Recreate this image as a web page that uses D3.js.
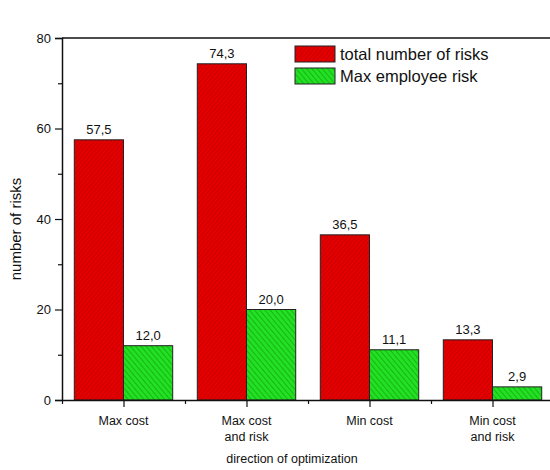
<!DOCTYPE html>
<html>
<head>
<meta charset="utf-8">
<script src="https://cdn.jsdelivr.net/npm/d3@7"></script>
<style>
  body { margin: 0; background: #fff; }
  svg text { font-family: "Liberation Sans", Arial, sans-serif; fill: #111; }
</style>
</head>
<body>
<svg id="chart"></svg>
<script>
var categories = [["Max cost"], ["Max cost", "and risk"], ["Min cost"], ["Min cost", "and risk"]];
var seriesNames = ["total number of risks", "Max employee risk"];
var totalRisks = [57.5, 74.3, 36.5, 13.3];
var maxEmployee = [12.0, 20.0, 11.1, 2.9];
var yTicks = [0, 20, 40, 60, 80];
var yMinor = [10, 30, 50, 70];

var svgWidth = 550, svgHeight = 470;
var plotLeft = 62, plotRight = 554, plotTop = 38, plotBottom = 400;

var svg = d3.select("#chart")
    .attr("width", svgWidth)
    .attr("height", svgHeight);

// hatch patterns
var defs = svg.append("defs");
function hatch(id, base, line, spacing, width, dir) {
    var p = defs.append("pattern")
        .attr("id", id)
        .attr("patternUnits", "userSpaceOnUse")
        .attr("width", spacing)
        .attr("height", spacing)
        .attr("patternTransform", "rotate(" + dir + ")");
    p.append("rect").attr("width", spacing).attr("height", spacing).attr("fill", base);
    p.append("line").attr("x1", 0).attr("y1", 0).attr("x2", 0).attr("y2", spacing)
        .attr("stroke", line).attr("stroke-width", width);
}
hatch("redHatch", "#e40000", "#a00000", 3.2, 0.7, 40);
hatch("greenHatch", "#22e022", "#0c800c", 4, 0.9, -40);
var fills = ["url(#redHatch)", "url(#greenHatch)"];

var keys = categories.map(function(d, i){ return i; });
var x0 = d3.scaleBand().domain(keys).range([plotLeft, plotRight]).paddingInner(0.2).paddingOuter(0.1);
var x1 = d3.scaleBand().domain([0, 1]).range([0, x0.bandwidth()]);
var y = d3.scaleLinear().domain([0, 80]).range([plotBottom, plotTop]);

var rows = keys.map(function(i){ return [totalRisks[i], maxEmployee[i]]; });

var groups = svg.selectAll("g.grp")
    .data(rows)
    .enter()
    .append("g")
    .attr("class", "grp")
    .attr("transform", function(d, i){ return "translate(" + x0(i) + ",0)"; });

groups.selectAll("rect")
    .data(function(d){ return d; })
    .enter()
    .append("rect")
    .attr("x", function(d, j){ return x1(j); })
    .attr("y", function(d){ return y(d); })
    .attr("width", x1.bandwidth())
    .attr("height", function(d){ return plotBottom - y(d); })
    .attr("fill", function(d, j){ return fills[j]; })
    .attr("stroke", "#222")
    .attr("stroke-width", 1);

groups.selectAll("text")
    .data(function(d){ return d; })
    .enter()
    .append("text")
    .attr("x", function(d, j){ return x1(j) + x1.bandwidth() / 2; })
    .attr("y", function(d){ return y(d) - 6; })
    .attr("text-anchor", "middle")
    .attr("font-size", 13)
    .text(function(d){ return d.toFixed(1).replace(".", ","); });

// y axis
var yAxis = svg.append("g")
    .attr("transform", "translate(" + plotLeft + ",0)")
    .call(d3.axisLeft(y).tickValues(yTicks).tickSize(7).tickPadding(4));
svg.append("g")
    .attr("transform", "translate(" + plotLeft + ",0)")
    .call(d3.axisLeft(y).tickValues(yMinor).tickSize(4).tickFormat(""))
    .select(".domain").remove();
yAxis.selectAll("text").attr("font-size", 13).attr("font-family", "Liberation Sans, Arial, sans-serif");

// x axis
var xLin = d3.scaleLinear().domain([plotLeft, plotRight]).range([plotLeft, plotRight]);
svg.append("g")
    .attr("transform", "translate(0," + plotBottom + ")")
    .call(d3.axisBottom(xLin)
        .tickValues(keys.map(function(i){ return x0(i) + x0.bandwidth() / 2; }))
        .tickSize(7).tickSizeOuter(0).tickFormat(""));
svg.append("g")
    .attr("transform", "translate(0," + plotBottom + ")")
    .call(d3.axisBottom(xLin)
        .tickValues(keys.map(function(i){ return plotLeft + x0.step() * i; }))
        .tickSize(4).tickFormat(""))
    .select(".domain").remove();

svg.selectAll(".domain").attr("stroke-width", 1.5).attr("stroke", "#111");
svg.selectAll(".tick line").attr("stroke", "#111").attr("stroke-width", 1.2);

// category labels
var catLabels = svg.selectAll("text.cat")
    .data(categories)
    .enter()
    .append("text")
    .attr("class", "cat")
    .attr("text-anchor", "middle")
    .attr("font-size", 12.5)
    .attr("y", 425);
catLabels.selectAll("tspan")
    .data(function(d, i){ return d.map(function(s){ return { s: s, i: i }; }); })
    .enter()
    .append("tspan")
    .attr("x", function(d){ return x0(d.i) + x0.bandwidth() / 2; })
    .attr("dy", function(d, k){ return k === 0 ? 0 : 16; })
    .text(function(d){ return d.s; });

// top frame
svg.append("line")
    .attr("x1", plotLeft).attr("x2", plotRight)
    .attr("y1", plotTop).attr("y2", plotTop)
    .attr("stroke", "#111").attr("stroke-width", 1.5);

// axis titles
svg.append("text")
    .attr("x", 292).attr("y", 463)
    .attr("text-anchor", "middle")
    .attr("font-size", 12.5)
    .text("direction of optimization");
svg.append("text")
    .attr("transform", "translate(21,229) rotate(-90)")
    .attr("text-anchor", "middle")
    .attr("font-size", 15)
    .text("number of risks");

// legend
var legend = svg.selectAll("g.leg")
    .data(seriesNames)
    .enter()
    .append("g")
    .attr("class", "leg")
    .attr("transform", function(d, i){ return "translate(295," + (46 + i * 22) + ")"; });
legend.append("rect")
    .attr("width", 40).attr("height", 16)
    .attr("fill", function(d, i){ return fills[i]; })
    .attr("stroke", "#222").attr("stroke-width", 1);
legend.append("text")
    .attr("x", 45).attr("y", 13.5)
    .attr("font-size", 16.5)
    .text(function(d){ return d; });
</script>
</body>
</html>
